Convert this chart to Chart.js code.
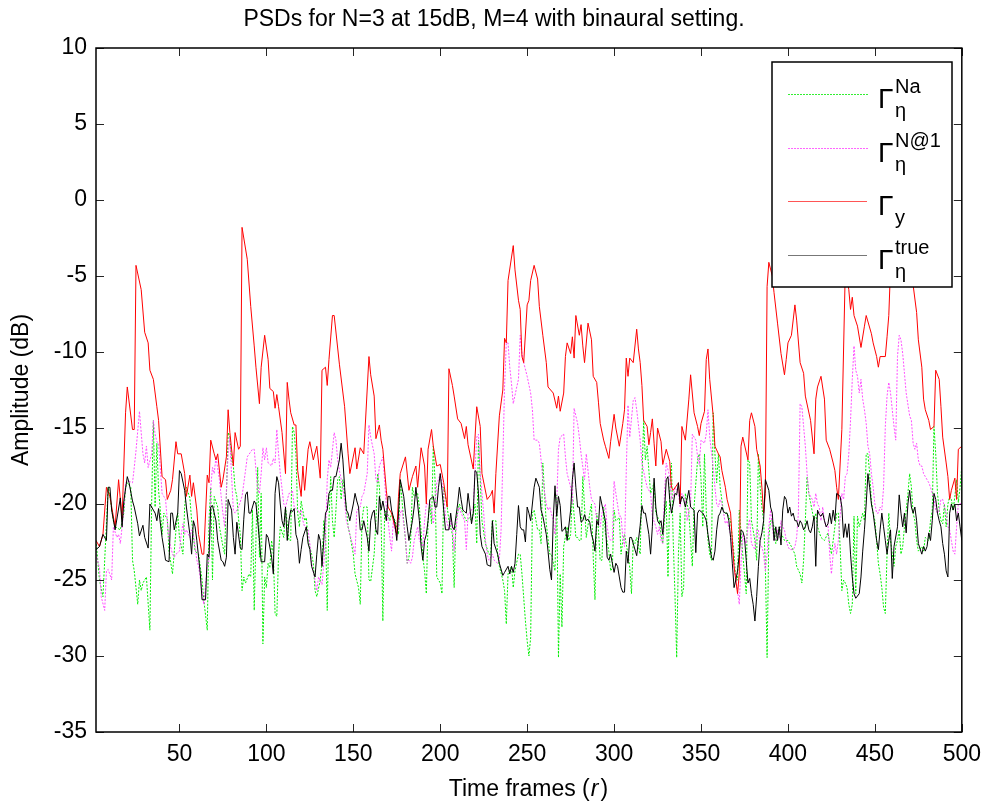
<!DOCTYPE html>
<html>
<head>
<meta charset="utf-8">
<title>PSDs</title>
<script src="https://cdn.jsdelivr.net/npm/chart.js@4.4.1/dist/chart.umd.min.js"></script>
<style>
  html, body { margin: 0; padding: 0; background: #fff; }
  #marco { width: 990px; height: 806px; }
</style>
</head>
<body>
<div id="marco"><canvas id="graficoPSD" width="990" height="806"></canvas></div>
<script>
// Textos y ticks
const titulo = "PSDs for N=3 at 15dB, M=4 with binaural setting.";
const tituloY = "Amplitude (dB)";
const xTicks = [50, 100, 150, 200, 250, 300, 350, 400, 450, 500];
const yTicks = [-35, -30, -25, -20, -15, -10, -5, 0, 5, 10];

// Series: [frame, dB]
const gammaNa = [[2,-22.4],[4,-25.0],[6,-26.1],[9,-18.9],[10,-19.5],[12,-21.1],[13,-21.5],[16,-21.7],[18,-20.6],[19,-18.9],[20,-18.6],[22,-18.9],[23,-23.7],[24,-24.4],[26,-26.6],[27,-25.0],[28,-25.7],[29,-25.2],[31,-24.8],[33,-28.3],[34,-20.0],[35,-14.5],[36,-20.2],[37,-16.0],[38,-19.1],[39,-20.4],[40,-22.0],[41,-20.6],[43,-21.0],[44,-23.1],[46,-24.6],[48,-21.7],[49,-20.6],[50,-22.2],[52,-23.3],[53,-20.2],[54,-18.9],[56,-19.6],[57,-21.1],[59,-23.1],[61,-23.3],[63,-25.0],[64,-26.3],[66,-28.3],[67,-21.1],[68,-18.9],[69,-25.0],[70,-19.5],[72,-20.2],[73,-21.5],[75,-22.8],[76,-23.3],[77,-19.5],[78,-15.3],[79,-15.6],[80,-17.1],[81,-17.5],[82,-19.0],[83,-19.5],[84,-21.0],[85,-22.0],[86,-25.7],[87,-24.8],[88,-25.2],[90,-24.6],[91,-24.8],[92,-20.4],[93,-27.0],[95,-17.6],[96,-23.5],[97,-19.3],[98,-29.2],[99,-24.8],[100,-25.5],[101,-23.9],[102,-24.2],[103,-22.4],[104,-23.3],[105,-27.2],[106,-27.4],[107,-23.3],[108,-21.5],[110,-22.2],[111,-20.2],[113,-22.4],[114,-22.4],[115,-14.9],[116,-15.3],[117,-16.7],[118,-20.6],[119,-21.5],[120,-19.8],[122,-21.1],[123,-20.9],[124,-22.4],[126,-23.3],[127,-23.9],[128,-25.7],[129,-26.1],[131,-25.0],[132,-23.9],[133,-21.1],[134,-21.7],[135,-27.0],[136,-21.1],[137,-18.2],[138,-21.1],[139,-22.2],[140,-20.4],[141,-18.4],[142,-18.2],[143,-19.7],[144,-18.4],[146,-20.2],[147,-21.5],[148,-22.0],[150,-23.3],[151,-24.6],[153,-25.5],[154,-26.6],[155,-21.1],[156,-20.2],[158,-20.2],[159,-25.0],[160,-25.1],[162,-23.3],[163,-21.1],[164,-18.0],[165,-18.9],[166,-21.1],[167,-27.7],[168,-20.6],[169,-20.4],[171,-21.1],[172,-20.6],[174,-21.1],[176,-22.0],[177,-18.4],[179,-21.1],[180,-22.4],[181,-23.9],[182,-23.5],[183,-22.4],[184,-18.9],[185,-19.5],[187,-19.3],[188,-20.2],[190,-23.5],[191,-24.4],[192,-25.9],[193,-21.1],[194,-20.0],[195,-21.3],[196,-16.2],[197,-18.4],[198,-24.8],[200,-25.2],[201,-25.9],[202,-18.9],[203,-19.5],[204,-20.2],[205,-21.1],[207,-22.0],[208,-25.5],[209,-21.1],[211,-20.0],[213,-20.6],[215,-21.1],[217,-20.9],[218,-21.1],[220,-20.0],[221,-22.6],[222,-15.8],[223,-18.4],[224,-21.1],[226,-22.6],[228,-23.3],[229,-23.3],[230,-21.1],[232,-21.1],[233,-23.3],[234,-24.1],[236,-25.0],[237,-25.7],[238,-27.9],[239,-24.6],[241,-24.1],[242,-25.5],[243,-24.4],[245,-23.3],[246,-23.3],[247,-24.6],[249,-27.7],[250,-29.0],[251,-30.0],[252,-28.8],[253,-20.6],[254,-20.4],[256,-21.7],[257,-21.7],[258,-22.6],[259,-17.3],[260,-19.3],[261,-21.3],[263,-23.3],[264,-23.3],[266,-24.4],[267,-19.4],[268,-30.1],[269,-24.6],[270,-28.1],[271,-22.8],[273,-21.5],[274,-22.4],[275,-22.0],[276,-19.3],[278,-22.2],[279,-22.2],[280,-22.4],[281,-22.4],[282,-18.2],[283,-20.2],[284,-22.2],[286,-20.6],[287,-20.0],[288,-23.5],[289,-26.3],[290,-20.6],[291,-21.7],[292,-23.7],[293,-23.7],[294,-20.2],[295,-21.9],[297,-23.1],[298,-24.4],[299,-24.2],[300,-20.4],[301,-21.1],[303,-20.9],[304,-23.3],[305,-22.4],[306,-22.0],[308,-23.3],[309,-24.2],[310,-25.9],[311,-22.4],[312,-22.6],[313,-22.2],[314,-22.8],[315,-23.3],[316,-18.4],[317,-14.5],[318,-17.1],[319,-16.2],[320,-17.8],[321,-19.3],[323,-18.6],[324,-20.6],[326,-21.1],[327,-22.0],[328,-22.6],[329,-20.9],[330,-19.8],[331,-24.8],[332,-19.3],[333,-17.3],[334,-22.4],[335,-25.9],[336,-30.1],[337,-23.3],[338,-20.6],[339,-26.1],[340,-25.5],[341,-19.3],[343,-20.6],[344,-22.4],[345,-24.1],[346,-20.2],[348,-17.1],[349,-16.7],[350,-18.4],[351,-21.5],[352,-16.7],[353,-20.4],[354,-22.4],[355,-23.3],[356,-23.7],[357,-14.0],[358,-16.7],[359,-18.6],[360,-16.7],[361,-18.9],[363,-20.6],[365,-20.6],[367,-21.1],[369,-23.3],[370,-25.0],[371,-25.0],[372,-20.4],[374,-23.3],[375,-24.6],[376,-25.9],[377,-17.1],[378,-17.3],[379,-21.1],[381,-22.4],[382,-23.7],[383,-16.7],[384,-18.9],[385,-20.2],[386,-21.1],[387,-24.0],[388,-30.1],[389,-22.2],[390,-21.1],[391,-21.1],[392,-21.5],[393,-22.6],[395,-21.5],[396,-21.9],[398,-22.4],[400,-22.4],[402,-22.8],[404,-23.3],[405,-24.1],[407,-24.6],[408,-25.2],[409,-23.7],[410,-21.1],[411,-18.2],[412,-19.3],[413,-19.9],[415,-21.1],[416,-20.6],[417,-21.5],[419,-22.2],[421,-22.4],[423,-21.9],[425,-23.3],[428,-20.6],[429,-20.6],[430,-22.8],[431,-25.7],[432,-25.0],[433,-25.2],[434,-25.5],[435,-26.6],[436,-27.2],[437,-26.6],[438,-20.8],[439,-25.9],[440,-20.8],[441,-21.5],[443,-20.6],[444,-21.1],[445,-16.7],[446,-16.7],[447,-18.0],[448,-19.8],[449,-20.6],[450,-21.1],[451,-22.4],[452,-23.9],[453,-24.6],[454,-25.5],[455,-26.8],[456,-27.2],[457,-23.3],[458,-20.6],[459,-22.4],[460,-23.3],[461,-24.1],[462,-22.8],[463,-22.4],[464,-21.7],[465,-23.3],[466,-22.8],[467,-21.5],[469,-19.3],[470,-18.0],[471,-18.9],[472,-20.6],[473,-21.1],[474,-22.4],[475,-23.1],[477,-22.8],[478,-23.1],[479,-22.2],[481,-22.4],[482,-21.1],[483,-20.4],[484,-14.9],[485,-16.7],[486,-19.3],[487,-20.4],[488,-21.1],[489,-21.3],[490,-20.0],[491,-21.5],[492,-20.0],[493,-19.5],[494,-19.7],[495,-20.4],[496,-19.5],[497,-18.4],[498,-19.9],[499,-18.9],[500,-17.5]];

const gammaN1 = [[2,-23.3],[4,-24.2],[5,-26.1],[7,-27.0],[8,-24.4],[9,-24.3],[11,-25.0],[12,-21.5],[14,-22.2],[15,-22.0],[16,-22.6],[18,-20.4],[19,-18.6],[21,-18.5],[23,-18.6],[24,-17.6],[25,-16.5],[27,-13.9],[28,-15.3],[29,-16.7],[30,-17.3],[31,-16.2],[32,-17.6],[34,-16.7],[35,-14.5],[36,-15.4],[37,-15.9],[38,-16.0],[40,-19.3],[41,-19.5],[42,-19.7],[44,-22.4],[46,-23.3],[47,-23.5],[48,-23.3],[50,-23.1],[51,-22.0],[52,-21.3],[53,-22.0],[54,-21.7],[56,-22.2],[57,-21.7],[58,-22.0],[60,-23.7],[61,-24.1],[63,-25.7],[64,-26.6],[66,-24.1],[67,-23.7],[68,-18.9],[69,-17.6],[70,-18.0],[71,-16.9],[73,-18.4],[74,-19.5],[75,-20.6],[76,-21.5],[78,-16.7],[79,-15.6],[80,-18.2],[81,-20.4],[82,-20.6],[84,-20.2],[86,-19.5],[88,-17.8],[89,-16.9],[92,-16.4],[93,-16.4],[95,-19.1],[96,-19.3],[97,-18.0],[98,-16.3],[99,-17.1],[100,-16.3],[101,-17.3],[103,-17.5],[104,-17.0],[105,-17.3],[106,-15.1],[107,-16.7],[108,-18.0],[110,-20.0],[111,-20.2],[113,-19.3],[114,-19.3],[115,-19.1],[116,-20.2],[118,-20.4],[119,-20.6],[120,-20.4],[121,-21.1],[122,-21.5],[124,-21.7],[125,-22.6],[126,-23.9],[128,-25.0],[129,-25.7],[130,-24.8],[132,-25.3],[133,-23.9],[134,-22.4],[135,-18.4],[136,-17.1],[137,-17.6],[139,-15.3],[140,-15.8],[141,-17.1],[142,-17.8],[144,-18.9],[145,-19.8],[146,-21.1],[147,-21.5],[148,-22.0],[150,-22.8],[151,-23.3],[152,-20.4],[154,-20.2],[155,-19.5],[156,-19.3],[158,-18.0],[159,-14.8],[160,-15.6],[162,-16.7],[163,-18.4],[164,-18.6],[165,-17.5],[167,-16.9],[168,-18.4],[169,-20.2],[170,-21.1],[171,-22.2],[172,-23.1],[173,-21.1],[174,-21.7],[175,-22.2],[177,-20.6],[178,-20.4],[180,-22.2],[181,-23.9],[182,-23.7],[183,-23.9],[184,-23.5],[185,-22.4],[187,-21.5],[188,-22.4],[190,-22.8],[191,-21.1],[192,-20.0],[194,-20.0],[195,-20.4],[196,-21.3],[197,-20.4],[198,-18.6],[199,-18.4],[200,-18.0],[202,-19.3],[203,-20.8],[205,-21.7],[206,-21.1],[207,-21.5],[208,-23.1],[210,-20.6],[211,-20.2],[212,-20.6],[214,-21.1],[215,-23.0],[216,-20.6],[217,-20.6],[219,-20.2],[220,-17.8],[221,-15.6],[222,-15.4],[223,-18.0],[225,-20.6],[226,-22.4],[227,-23.3],[228,-23.7],[230,-23.3],[231,-23.7],[233,-23.9],[234,-23.7],[235,-21.7],[236,-17.1],[237,-12.3],[238,-9.4],[239,-9.4],[240,-11.0],[241,-12.1],[242,-13.4],[244,-12.3],[245,-11.8],[246,-8.9],[247,-10.1],[248,-10.7],[250,-11.6],[252,-12.7],[253,-13.8],[254,-15.8],[256,-15.8],[257,-16.0],[258,-17.1],[259,-18.4],[261,-20.0],[262,-20.4],[263,-20.2],[265,-21.1],[266,-22.0],[267,-20.0],[268,-16.4],[269,-15.6],[271,-15.4],[272,-16.9],[273,-18.0],[275,-18.9],[276,-20.0],[277,-13.7],[279,-14.7],[280,-15.6],[281,-16.7],[283,-18.4],[284,-16.7],[286,-18.9],[287,-19.7],[289,-20.0],[290,-21.1],[292,-21.5],[293,-20.6],[295,-20.0],[296,-21.5],[297,-22.2],[298,-22.4],[299,-22.4],[300,-18.5],[301,-19.3],[303,-20.8],[304,-20.8],[305,-22.2],[306,-22.8],[307,-17.8],[308,-13.5],[309,-15.6],[311,-13.2],[312,-13.0],[313,-13.8],[315,-15.8],[316,-17.3],[318,-18.4],[319,-18.9],[321,-19.3],[322,-20.8],[324,-21.5],[325,-22.0],[326,-21.5],[327,-22.4],[328,-22.6],[329,-19.3],[330,-17.3],[332,-18.2],[333,-19.7],[334,-19.5],[335,-18.9],[337,-19.3],[338,-20.2],[339,-19.3],[341,-19.7],[342,-21.1],[344,-20.0],[345,-15.4],[347,-15.8],[348,-16.9],[349,-17.4],[350,-15.8],[352,-16.0],[353,-15.4],[354,-13.8],[355,-15.6],[357,-17.6],[358,-18.9],[359,-20.0],[360,-20.2],[361,-19.7],[362,-20.0],[363,-20.6],[364,-21.3],[365,-21.1],[367,-22.0],[368,-22.8],[369,-24.1],[370,-25.0],[371,-25.7],[372,-26.6],[373,-23.9],[374,-22.0],[375,-22.4],[376,-22.6],[377,-21.5],[378,-21.0],[379,-22.6],[380,-22.8],[381,-23.0],[382,-21.7],[383,-21.7],[384,-22.8],[385,-22.8],[386,-23.3],[387,-24.4],[388,-23.3],[389,-21.5],[390,-20.4],[391,-21.5],[392,-22.4],[393,-22.4],[394,-21.7],[395,-22.2],[396,-21.1],[397,-21.5],[398,-21.7],[399,-22.4],[400,-22.8],[401,-23.0],[403,-23.0],[404,-22.8],[405,-22.2],[406,-20.6],[407,-13.4],[408,-13.6],[409,-14.9],[410,-16.2],[411,-18.0],[412,-19.3],[414,-19.7],[415,-20.2],[416,-19.3],[417,-20.0],[418,-20.2],[419,-21.1],[420,-20.2],[421,-21.1],[422,-21.5],[423,-21.3],[424,-23.3],[425,-24.6],[426,-23.3],[427,-22.6],[428,-23.3],[429,-22.4],[430,-20.8],[431,-19.3],[432,-19.7],[433,-18.2],[434,-18.0],[435,-16.7],[436,-14.5],[437,-11.8],[438,-9.6],[439,-11.2],[440,-11.6],[441,-12.7],[442,-11.8],[443,-13.1],[444,-13.8],[445,-14.7],[446,-16.2],[447,-16.7],[448,-18.0],[449,-18.9],[450,-20.0],[451,-20.6],[452,-20.6],[453,-20.2],[454,-20.4],[455,-18.9],[456,-14.9],[457,-12.9],[458,-12.0],[459,-12.7],[460,-13.8],[461,-14.9],[462,-15.8],[463,-10.3],[464,-8.9],[465,-9.2],[466,-10.1],[467,-11.4],[468,-12.7],[470,-14.2],[471,-14.5],[472,-16.0],[473,-16.4],[474,-16.0],[475,-17.1],[476,-17.5],[477,-17.5],[478,-18.0],[479,-18.2],[480,-18.4],[481,-18.6],[482,-18.9],[483,-19.3],[484,-19.7],[485,-20.4],[486,-20.6],[487,-20.4],[488,-19.7],[489,-19.7],[490,-20.2],[491,-20.6],[492,-21.5],[493,-21.7],[494,-22.4],[495,-23.1],[496,-23.3],[497,-21.5],[498,-20.0],[499,-20.0],[500,-19.9]];

const gammaY = [[2,-22.4],[4,-22.8],[6,-22.0],[8,-18.9],[10,-19.5],[13,-21.5],[15,-18.4],[17,-21.0],[19,-14.0],[20,-12.3],[23,-15.1],[24,-15.1],[25,-4.3],[28,-5.9],[30,-8.7],[32,-9.4],[33,-11.2],[35,-11.8],[37,-13.6],[38,-14.5],[40,-18.2],[42,-18.4],[43,-19.7],[45,-19.1],[46,-18.4],[48,-15.9],[49,-16.7],[51,-16.7],[53,-18.0],[54,-19.5],[56,-18.1],[57,-19.5],[58,-18.6],[60,-20.4],[61,-22.0],[63,-23.3],[64,-23.3],[66,-18.1],[67,-18.6],[68,-15.8],[70,-16.7],[71,-17.1],[72,-16.7],[74,-18.9],[75,-18.4],[77,-16.9],[78,-13.8],[79,-15.3],[81,-17.5],[82,-15.3],[84,-16.4],[85,-16.2],[86,-1.8],[89,-3.9],[91,-7.0],[93,-9.6],[94,-11.0],[96,-13.4],[97,-11.0],[99,-8.9],[101,-10.5],[102,-12.4],[104,-12.6],[105,-13.7],[106,-12.8],[107,-13.6],[109,-15.3],[111,-18.0],[112,-12.0],[113,-13.1],[114,-14.0],[116,-14.8],[117,-14.8],[118,-17.8],[120,-19.5],[121,-17.5],[122,-19.1],[124,-16.4],[125,-15.9],[127,-17.1],[129,-16.2],[131,-18.3],[132,-11.2],[134,-11.0],[135,-12.2],[136,-10.5],[138,-7.6],[139,-7.6],[142,-10.8],[145,-13.6],[147,-16.7],[148,-18.0],[151,-16.3],[152,-17.7],[154,-16.3],[156,-16.7],[159,-10.3],[160,-11.5],[162,-12.9],[163,-15.7],[165,-14.8],[166,-15.8],[167,-16.4],[169,-19.1],[170,-20.2],[172,-20.6],[175,-22.0],[176,-19.5],[177,-18.0],[180,-16.9],[182,-19.1],[184,-18.2],[186,-17.5],[187,-18.9],[189,-16.3],[191,-17.5],[192,-20.0],[193,-16.4],[195,-15.1],[196,-16.2],[198,-17.5],[200,-17.4],[202,-18.6],[204,-20.2],[205,-11.1],[207,-12.2],[208,-12.9],[210,-14.4],[212,-14.7],[214,-15.7],[215,-14.9],[216,-16.1],[219,-17.7],[221,-13.6],[223,-14.9],[224,-18.0],[227,-19.7],[229,-19.4],[230,-19.1],[231,-20.6],[232,-18.0],[234,-14.2],[236,-12.5],[237,-9.1],[238,-9.4],[239,-5.3],[242,-3.0],[243,-4.6],[245,-6.6],[246,-7.2],[247,-10.3],[248,-10.7],[250,-6.9],[251,-6.6],[252,-5.3],[254,-4.3],[256,-5.2],[257,-7.0],[259,-8.9],[261,-10.7],[262,-12.3],[265,-12.7],[267,-13.7],[268,-12.9],[269,-13.9],[271,-12.7],[272,-10.3],[273,-9.4],[275,-10.1],[276,-9.0],[277,-10.4],[278,-7.6],[280,-8.9],[281,-8.2],[282,-9.6],[283,-10.7],[285,-8.1],[287,-9.2],[288,-11.6],[290,-12.0],[291,-13.3],[292,-14.7],[294,-15.8],[295,-16.2],[297,-17.0],[298,-15.9],[300,-14.1],[301,-15.0],[303,-16.2],[305,-14.7],[306,-13.8],[307,-10.4],[308,-11.6],[309,-10.4],[311,-10.7],[313,-8.5],[314,-9.8],[315,-10.7],[316,-12.2],[317,-14.5],[319,-14.9],[320,-16.1],[321,-15.3],[322,-14.4],[323,-16.0],[324,-17.5],[325,-15.0],[327,-15.9],[328,-17.4],[330,-16.4],[332,-17.2],[333,-18.9],[334,-19.1],[337,-18.6],[338,-20.0],[339,-14.9],[341,-15.8],[343,-13.1],[344,-11.5],[346,-14.0],[348,-14.9],[349,-15.5],[350,-14.7],[352,-13.9],[353,-10.5],[354,-9.8],[355,-11.8],[357,-14.2],[358,-16.2],[360,-16.7],[361,-16.9],[362,-17.8],[364,-18.9],[365,-19.7],[367,-20.6],[368,-22.4],[369,-24.1],[370,-25.0],[371,-25.9],[372,-24.6],[373,-16.2],[374,-15.6],[377,-17.1],[378,-14.5],[379,-14.0],[381,-14.9],[382,-16.4],[384,-17.5],[385,-18.9],[386,-20.6],[387,-19.3],[388,-5.7],[389,-4.1],[391,-5.0],[392,-6.1],[394,-8.1],[396,-10.1],[398,-11.5],[399,-10.5],[400,-9.4],[402,-8.9],[404,-6.9],[405,-7.9],[407,-10.7],[409,-11.4],[410,-12.9],[413,-14.5],[415,-16.7],[416,-13.1],[417,-12.3],[419,-11.6],[421,-13.1],[422,-15.8],[424,-16.4],[426,-17.3],[427,-17.8],[428,-18.9],[429,-19.7],[431,-15.1],[433,-4.5],[435,-5.9],[436,-7.2],[437,-6.4],[438,-7.6],[440,-8.3],[442,-9.7],[444,-8.3],[445,-7.6],[448,-8.8],[449,-9.4],[451,-10.3],[452,-11.0],[453,-10.3],[456,-10.3],[457,-9.0],[458,-7.6],[459,-4.5],[463,-3.5],[467,-4.0],[472,-5.6],[474,-7.4],[475,-9.2],[477,-11.0],[478,-13.1],[479,-13.8],[481,-14.5],[482,-15.1],[484,-14.9],[485,-11.2],[487,-11.8],[488,-13.6],[489,-15.6],[491,-17.3],[492,-18.2],[493,-19.7],[494,-19.1],[496,-18.3],[497,-19.7],[498,-16.4],[500,-16.2]];

const gammaTrue = [[2,-23.0],[4,-22.8],[6,-22.0],[8,-22.4],[9,-18.9],[10,-18.9],[11,-20.4],[13,-21.7],[16,-19.6],[17,-21.5],[18,-19.8],[20,-18.2],[21,-18.6],[23,-19.8],[24,-20.2],[26,-21.3],[27,-22.1],[29,-21.4],[30,-22.2],[32,-22.9],[33,-20.0],[35,-20.4],[36,-20.6],[37,-21.1],[38,-20.3],[40,-22.2],[41,-22.9],[42,-23.7],[44,-23.8],[45,-20.6],[46,-20.6],[47,-21.7],[49,-20.6],[50,-17.8],[51,-18.0],[53,-19.1],[54,-20.2],[56,-22.0],[57,-23.3],[58,-21.1],[59,-21.5],[60,-22.4],[62,-24.6],[63,-26.3],[65,-26.3],[66,-23.3],[67,-23.5],[68,-20.2],[69,-20.1],[71,-21.1],[72,-22.4],[74,-23.7],[75,-23.8],[76,-24.1],[77,-23.5],[78,-19.7],[80,-20.4],[81,-22.2],[82,-23.3],[83,-21.2],[85,-22.9],[86,-23.0],[87,-21.0],[88,-19.4],[89,-19.2],[90,-20.6],[91,-20.6],[93,-19.8],[94,-20.0],[95,-21.1],[96,-22.4],[97,-23.8],[99,-23.8],[100,-22.0],[101,-22.2],[103,-23.5],[104,-24.6],[105,-19.3],[106,-18.2],[107,-18.6],[108,-20.0],[109,-21.1],[110,-21.5],[111,-20.2],[112,-22.4],[113,-21.1],[114,-20.4],[115,-20.5],[116,-20.3],[117,-22.0],[118,-22.4],[119,-23.9],[120,-23.0],[121,-22.2],[123,-21.5],[124,-22.6],[125,-23.0],[126,-24.1],[128,-24.8],[129,-23.3],[130,-22.0],[131,-22.4],[132,-24.1],[133,-22.4],[134,-20.6],[135,-20.4],[136,-19.3],[137,-19.1],[138,-19.1],[139,-18.2],[140,-18.2],[142,-17.1],[143,-16.0],[144,-17.1],[145,-18.9],[146,-20.4],[147,-20.6],[148,-21.1],[150,-20.0],[151,-19.3],[152,-19.8],[153,-20.2],[154,-21.7],[155,-21.7],[156,-21.1],[158,-22.2],[159,-23.1],[160,-21.1],[161,-20.6],[162,-20.4],[163,-21.7],[164,-22.0],[165,-19.5],[166,-20.4],[167,-19.8],[169,-21.1],[170,-19.5],[171,-19.5],[172,-20.4],[174,-21.3],[175,-22.4],[176,-20.6],[177,-18.4],[179,-19.5],[180,-20.6],[181,-21.5],[182,-22.4],[184,-21.1],[185,-20.2],[186,-18.9],[187,-20.0],[188,-21.1],[189,-22.8],[190,-23.7],[191,-22.4],[192,-22.0],[193,-21.1],[194,-19.7],[196,-19.5],[197,-20.2],[198,-20.2],[199,-18.9],[200,-18.0],[201,-19.1],[202,-20.4],[203,-21.7],[205,-21.7],[206,-20.6],[207,-21.5],[208,-21.7],[210,-20.0],[211,-18.9],[212,-19.7],[213,-20.4],[214,-20.5],[215,-20.6],[216,-19.3],[217,-20.2],[218,-21.3],[219,-20.6],[220,-17.8],[221,-17.9],[222,-19.3],[223,-22.0],[224,-22.8],[226,-23.3],[227,-24.0],[229,-24.1],[230,-21.1],[231,-22.6],[233,-23.3],[234,-23.9],[236,-24.7],[237,-24.5],[239,-24.1],[240,-24.6],[241,-24.1],[242,-24.5],[243,-23.9],[244,-22.0],[245,-20.1],[246,-21.5],[247,-21.7],[248,-21.7],[249,-22.5],[250,-20.2],[251,-20.6],[252,-21.1],[254,-18.9],[255,-18.3],[257,-18.9],[258,-20.4],[259,-20.8],[260,-21.4],[261,-22.0],[262,-23.1],[263,-24.3],[264,-25.0],[265,-21.0],[266,-18.8],[267,-20.8],[268,-19.5],[269,-20.1],[270,-21.8],[271,-21.7],[272,-21.5],[273,-22.4],[275,-20.4],[276,-18.4],[277,-17.3],[278,-18.9],[279,-20.2],[280,-20.2],[281,-21.2],[282,-21.1],[283,-20.7],[284,-21.1],[285,-21.0],[286,-21.2],[287,-22.0],[288,-22.4],[289,-23.1],[290,-21.1],[291,-21.4],[292,-19.5],[294,-20.6],[295,-21.1],[296,-23.5],[297,-23.7],[298,-23.3],[299,-23.9],[300,-24.5],[301,-23.9],[302,-24.1],[303,-24.8],[304,-25.5],[305,-25.8],[306,-25.8],[307,-23.1],[308,-23.9],[309,-22.2],[310,-22.2],[311,-22.6],[313,-23.4],[314,-22.4],[315,-21.4],[316,-20.1],[317,-20.6],[318,-20.6],[320,-22.0],[321,-23.3],[322,-21.5],[323,-18.3],[324,-20.2],[325,-21.1],[326,-21.3],[327,-21.1],[328,-22.0],[329,-20.4],[330,-18.4],[331,-18.2],[332,-19.7],[333,-20.6],[334,-20.0],[335,-19.3],[336,-19.4],[337,-18.6],[338,-20.0],[339,-19.5],[340,-19.7],[341,-20.2],[343,-19.1],[344,-20.2],[346,-20.4],[347,-23.2],[348,-20.6],[349,-20.4],[351,-20.6],[352,-20.8],[353,-21.1],[354,-22.0],[355,-22.8],[356,-23.5],[357,-23.7],[358,-23.1],[359,-21.7],[360,-20.8],[361,-20.6],[362,-20.2],[363,-20.5],[364,-20.6],[365,-20.6],[366,-21.1],[367,-22.2],[368,-23.9],[369,-25.5],[370,-25.0],[371,-24.4],[372,-23.3],[373,-21.7],[374,-21.8],[375,-22.2],[376,-23.7],[377,-25.2],[378,-24.9],[379,-25.9],[380,-26.6],[381,-27.7],[382,-26.1],[383,-24.1],[384,-22.4],[385,-21.9],[386,-21.1],[387,-18.4],[389,-19.1],[390,-20.2],[391,-20.6],[392,-22.4],[393,-21.5],[394,-22.4],[395,-21.5],[396,-22.7],[397,-20.4],[398,-19.5],[399,-19.7],[400,-20.6],[401,-20.2],[402,-20.8],[403,-20.6],[404,-21.1],[405,-21.1],[406,-21.5],[407,-21.1],[408,-21.3],[409,-21.7],[410,-21.5],[411,-21.1],[412,-21.7],[413,-21.9],[414,-21.5],[415,-20.8],[416,-24.1],[417,-20.4],[418,-20.7],[419,-20.8],[420,-20.6],[421,-21.1],[422,-21.5],[423,-21.3],[424,-20.6],[425,-21.3],[426,-20.4],[427,-21.1],[428,-19.3],[430,-19.5],[431,-20.2],[432,-22.2],[433,-21.3],[434,-22.2],[435,-21.3],[436,-23.3],[437,-24.8],[438,-25.9],[439,-26.2],[441,-25.9],[442,-24.8],[443,-23.1],[444,-21.7],[445,-20.0],[446,-18.0],[447,-18.9],[448,-20.0],[449,-20.6],[450,-21.5],[451,-22.4],[452,-23.0],[453,-21.7],[454,-20.6],[455,-21.5],[456,-22.4],[457,-23.3],[458,-22.4],[459,-21.7],[460,-24.9],[461,-22.8],[463,-21.5],[464,-19.4],[465,-20.6],[466,-21.5],[467,-20.6],[468,-21.9],[469,-20.0],[470,-19.1],[471,-20.2],[472,-20.6],[473,-20.2],[474,-21.1],[475,-22.6],[477,-23.3],[478,-22.8],[479,-23.1],[480,-22.8],[481,-21.9],[482,-22.4],[483,-21.1],[484,-19.3],[485,-19.7],[486,-20.6],[487,-21.1],[488,-21.5],[489,-22.6],[490,-23.3],[491,-24.4],[492,-24.8],[493,-20.6],[494,-20.0],[495,-20.4],[496,-20.0],[497,-21.1],[498,-20.6],[499,-21.5],[500,-22.4]];

const FUENTE = '"Liberation Sans", Arial, Helvetica, sans-serif';

// Leyenda: color, punteado y textos de cada Γ
const leyendaColores = ["#33ee33", "#ff66ff", "#ff5555", "#777777"];
const leyendaPunteado = [true, true, false, false];
const leyendaSup = ["Na", "N@1", "", "true"];
const leyendaSub = ["\u03b7", "\u03b7", "y", "\u03b7"];

function aPuntos(pares) {
  return pares.map((p) => ({ x: p[0], y: p[1] }));
}

// Marco estilo MATLAB: caja, ticks hacia dentro, leyenda y títulos
const marcoMatlab = {
  id: "marcoMatlab",
  afterDatasetsDraw(chart) {
    const { ctx, chartArea: a, scales } = chart;
    ctx.save();
    ctx.setLineDash([]);

    // ticks hacia dentro en los cuatro lados
    ctx.strokeStyle = "#262626";
    ctx.lineWidth = 1;
    ctx.beginPath();
    xTicks.forEach((v) => {
      const px = Math.round(scales.x.getPixelForValue(v)) + 0.5;
      ctx.moveTo(px, a.bottom);
      ctx.lineTo(px, a.bottom - 8);
      ctx.moveTo(px, a.top);
      ctx.lineTo(px, a.top + 8);
    });
    yTicks.forEach((v) => {
      const py = Math.round(scales.y.getPixelForValue(v)) + 0.5;
      ctx.moveTo(a.left, py);
      ctx.lineTo(a.left + 8, py);
      ctx.moveTo(a.right, py);
      ctx.lineTo(a.right - 8, py);
    });
    ctx.stroke();

    // caja de los ejes
    ctx.strokeStyle = "#000";
    ctx.lineWidth = 1.5;
    ctx.strokeRect(a.left, a.top, a.right - a.left, a.bottom - a.top);

    // leyenda
    const lx = 772, ly = 62, lw = 180, lh = 225;
    ctx.fillStyle = "#fff";
    ctx.fillRect(lx, ly, lw, lh);
    ctx.lineWidth = 1.5;
    ctx.strokeStyle = "#000";
    ctx.strokeRect(lx, ly, lw, lh);

    for (let i = 0; i < leyendaColores.length; i++) {
      const yLinea = Math.round(94 + i * 53.5);
      // muestra de línea con rectángulos de 1px
      ctx.fillStyle = leyendaColores[i];
      if (leyendaPunteado[i]) {
        for (let x = 788; x < 867; x += 3) ctx.fillRect(x, yLinea, 2, 1);
      } else {
        ctx.fillRect(788, yLinea, 79, 1);
      }

      const base = yLinea + 14;
      ctx.fillStyle = "#000";
      ctx.textAlign = "left";
      ctx.textBaseline = "alphabetic";
      ctx.font = "28px " + FUENTE;
      ctx.fillText("\u0393", 878, base);
      ctx.font = "20px " + FUENTE;
      if (leyendaSup[i]) ctx.fillText(leyendaSup[i], 895, base - 15);
      ctx.fillText(leyendaSub[i], 895, base + 9);
    }

    // título
    ctx.fillStyle = "#000";
    ctx.font = "23px " + FUENTE;
    ctx.textAlign = "center";
    ctx.textBaseline = "alphabetic";
    ctx.fillText(titulo, 494, 26);

    // título eje y
    ctx.save();
    ctx.translate(22, (a.top + a.bottom) / 2);
    ctx.rotate(-Math.PI / 2);
    ctx.textBaseline = "middle";
    ctx.fillText(tituloY, 0, 0);
    ctx.restore();

    // título eje x con la r en cursiva
    const parte1 = "Time frames (";
    const parte2 = "r";
    const parte3 = ")";
    ctx.font = "23px " + FUENTE;
    const w1 = ctx.measureText(parte1).width;
    const w3 = ctx.measureText(parte3).width;
    ctx.font = "italic 23px " + FUENTE;
    const w2 = ctx.measureText(parte2).width;
    const total = w1 + w2 + w3 + 4;
    const x0 = (a.left + a.right) / 2 - total / 2;
    ctx.textAlign = "left";
    ctx.font = "23px " + FUENTE;
    ctx.fillText(parte1, x0, 796);
    ctx.font = "italic 23px " + FUENTE;
    ctx.fillText(parte2, x0 + w1 + 1, 796);
    ctx.font = "23px " + FUENTE;
    ctx.fillText(parte3, x0 + w1 + w2 + 3, 796);

    ctx.restore();
  }
};

function crearGrafico() {
  const ctx = document.getElementById("graficoPSD").getContext("2d");
  new Chart(ctx, {
    type: "line",
    data: {
      datasets: [
        { label: "true", data: aPuntos(gammaTrue), borderColor: "#000000", borderWidth: 1, order: 0 },
        { label: "y", data: aPuntos(gammaY), borderColor: "#ff0000", borderWidth: 1, order: 1 },
        { label: "N@1", data: aPuntos(gammaN1), borderColor: "#ff4dff", borderWidth: 1, borderDash: [2, 1.5], order: 2 },
        { label: "Na", data: aPuntos(gammaNa), borderColor: "#00ee00", borderWidth: 1, borderDash: [2, 1.5], order: 3 }
      ]
    },
    options: {
      responsive: false,
      animation: false,
      devicePixelRatio: 1,
      layout: { padding: { top: 48, right: 26, bottom: 0, left: 0 } },
      elements: { point: { radius: 0 }, line: { tension: 0, fill: false } },
      plugins: {
        legend: { display: false },
        title: { display: false },
        tooltip: { enabled: false }
      },
      scales: {
        x: {
          type: "linear",
          min: 2,
          max: 500,
          grid: { display: false, drawTicks: false },
          border: { display: false },
          afterBuildTicks: (scale) => { scale.ticks = xTicks.map((v) => ({ value: v })); },
          afterFit: (scale) => { scale.height = 74; },
          ticks: {
            autoSkip: false,
            maxRotation: 0,
            padding: 9,
            color: "#000",
            font: { family: FUENTE, size: 23 }
          }
        },
        y: {
          min: -35,
          max: 10,
          grid: { display: false, drawTicks: false },
          border: { display: false },
          afterBuildTicks: (scale) => { scale.ticks = yTicks.map((v) => ({ value: v })); },
          afterFit: (scale) => { scale.width = 96; },
          ticks: {
            padding: 9,
            color: "#000",
            font: { family: FUENTE, size: 23 }
          }
        }
      }
    },
    plugins: [marcoMatlab]
  });
}

crearGrafico();
</script>
</body>
</html>
